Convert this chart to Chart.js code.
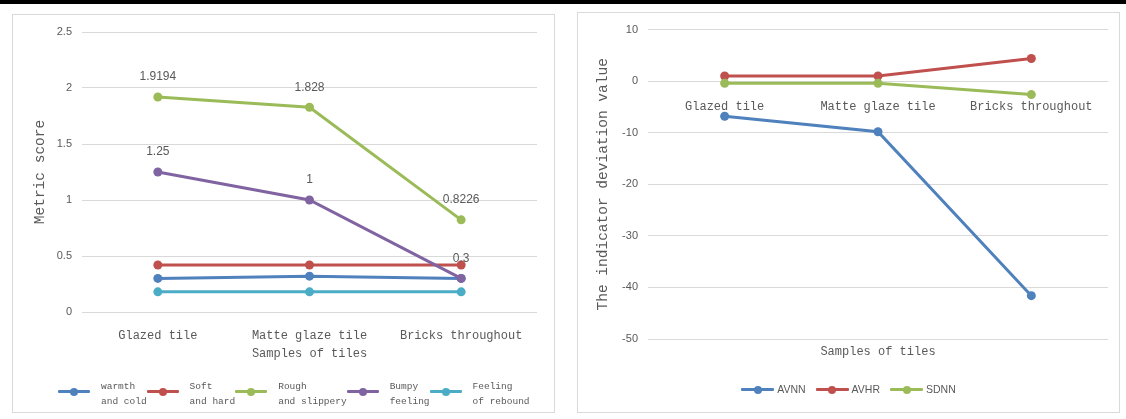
<!DOCTYPE html>
<html>
<head>
<meta charset="utf-8">
<script src="https://cdn.jsdelivr.net/npm/chart.js@4.4.1/dist/chart.umd.min.js"></script>
<style>
  body { margin: 0; background: #fff; width: 1126px; height: 419px; position: relative; overflow: hidden; }
  .topbar { position: absolute; left: 0; top: 0; width: 1126px; height: 4px; background: #000; }
  .panel { position: absolute; border: 1px solid #d9d9d9; background: #fff; }
  #panelL { left: 12px; top: 14px; width: 541px; height: 397px; }
  #panelR { left: 577px; top: 12px; width: 541px; height: 399px; }
  .panel canvas { position: absolute; left: 0; top: 0; }
  .legend { position: absolute; display: flex; color: #595959; }
  .legend .item { display: flex; align-items: flex-start; }
  .legend .mark { position: relative; display: block; height: 3px; border-radius: 1px; }
  .legend .mark i { position: absolute; left: 50%; top: 50%; width: 8px; height: 8px; margin: -4px 0 0 -4px; border-radius: 50%; }
  #legendL { left: 45px; top: 364px; }
  #legendL .mark { width: 32px; margin-top: 11px; }
  #legendL .txt { font: 9.5px "Liberation Mono", monospace; line-height: 15px; white-space: pre; margin-left: 11px; }
  #legendR { left: 0; width: 541px; top: 369px; justify-content: center; gap: 10px; }
  #legendR .mark { width: 33px; margin-top: 6px; }
  #legendR .txt { font: 10.5px "Liberation Sans", sans-serif; line-height: 14px; margin-left: 3px; }
</style>
</head>
<body>
<div class="topbar"></div>
<div class="panel" id="panelL">
  <canvas id="scoreChart" width="541" height="397"></canvas>
  <div class="legend" id="legendL"></div>
</div>
<div class="panel" id="panelR">
  <canvas id="hrvChart" width="541" height="399"></canvas>
  <div class="legend" id="legendR"></div>
</div>
<script>
const categories = ["Glazed tile", "Matte glaze tile", "Bricks throughout"];

// 촉감 지표 점수
const warmthCold = [0.3, 0.32, 0.3];
const softHard = [0.42, 0.42, 0.42];
const roughSlippery = [1.9194, 1.828, 0.8226];
const bumpyFeeling = [1.25, 1, 0.3];
const reboundFeeling = [0.18, 0.18, 0.18];
const scoreNames = [["warmth", "and cold"], ["Soft", "and hard"], ["Rough", "and slippery"], ["Bumpy", "feeling"], ["Feeling", "of rebound"]];
const scoreRange = [0, 2.5, 0.5];

// 심박 지표 편차
const avnn = [-6.8, -9.8, -41.6];
const avhr = [1.0, 1.0, 4.4];
const sdnn = [-0.4, -0.4, -2.6];
const hrvNames = ["AVNN", "AVHR", "SDNN"];
const hrvRange = [-50, 10, 10];

const textColor = "#595959";
const gridColor = "#d9d9d9";
const mono = (size) => ({ family: "'Liberation Mono', monospace", size: size });
const sans = (size) => ({ family: "'Liberation Sans', sans-serif", size: size });
const plainNumber = (v) => String(+v.toFixed(2)); // 2.0 -> 2

function lineSet(label, data, color, i, n, showValues) {
  return {
    label: label,
    data: data,
    borderColor: color,
    backgroundColor: color,
    borderWidth: 3,
    pointRadius: 4.5,
    pointHoverRadius: 4.5,
    pointBorderWidth: 0,
    tension: 0,
    order: n - i, // 뒤 시리즈가 위에 그려지도록
    showValues: !!showValues,
  };
}

// 점 위에 값 표시
const valueLabels = {
  id: "valueLabels",
  afterDatasetsDraw(chart) {
    const ctx = chart.ctx;
    ctx.save();
    ctx.font = "12px 'Liberation Sans', sans-serif";
    ctx.fillStyle = textColor;
    ctx.textAlign = "center";
    ctx.textBaseline = "middle";
    chart.data.datasets.forEach((ds, i) => {
      if (!ds.showValues) return;
      chart.getDatasetMeta(i).data.forEach((pt, j) => {
        ctx.fillText(String(ds.data[j]), pt.x, pt.y - 20);
      });
    });
    ctx.restore();
  },
};

function buildLegend(el, chart, names) {
  chart.data.datasets.forEach((ds, i) => {
    const item = document.createElement("div");
    item.className = "item";
    const mark = document.createElement("span");
    mark.className = "mark";
    mark.style.background = ds.borderColor;
    const dot = document.createElement("i");
    dot.style.background = ds.borderColor;
    mark.appendChild(dot);
    const txt = document.createElement("span");
    txt.className = "txt";
    txt.textContent = [].concat(names[i]).join("\n");
    item.appendChild(mark);
    item.appendChild(txt);
    el.appendChild(item);
  });
}

window.addEventListener("load", () => {
  //   왼쪽 그래프
  const scoreColors = ["#4f81bd", "#c0504d", "#9bbb59", "#8064a2", "#4bacc6"];
  const scoreData = [warmthCold, softHard, roughSlippery, bumpyFeeling, reboundFeeling];
  const scoreChart = new Chart(document.getElementById("scoreChart"), {
    type: "line",
    data: {
      labels: categories,
      datasets: scoreData.map((d, i) =>
        lineSet(scoreNames[i].join(" "), d, scoreColors[i], i, scoreData.length, i === 2 || i === 3)
      ),
    },
    options: {
      responsive: false,
      animation: false,
      layout: { padding: { left: 0, top: 17, right: 17, bottom: 51 } },
      plugins: { legend: { display: false }, tooltip: { enabled: false } },
      scales: {
        x: {
          offset: true,
          grid: { display: false },
          border: { display: false },
          ticks: { padding: 9, color: textColor, font: mono(12), maxRotation: 0, autoSkip: false },
          title: { display: true, text: "Samples of tiles", color: textColor, font: mono(12), padding: 0 },
          afterFit(s) { s.height = 49; },
        },
        y: {
          min: scoreRange[0],
          max: scoreRange[1],
          grid: { color: gridColor, drawTicks: false },
          border: { display: false },
          ticks: { stepSize: scoreRange[2], padding: 10, color: textColor, font: sans(11), callback: plainNumber },
          title: { display: true, text: "Metric score", color: textColor, font: mono(14.5), padding: { top: 18, bottom: 0 } },
          afterFit(s) { s.width = 69; },
        },
      },
    },
    plugins: [valueLabels],
  });
  buildLegend(document.getElementById("legendL"), scoreChart, scoreNames);

  //   오른쪽 그래프
  const hrvColors = ["#4f81bd", "#c0504d", "#9bbb59"];
  const hrvData = [avnn, avhr, sdnn];
  const hrvChart = new Chart(document.getElementById("hrvChart"), {
    type: "line",
    data: {
      labels: categories,
      datasets: hrvData.map((d, i) => lineSet(hrvNames[i], d, hrvColors[i], i, hrvData.length)),
    },
    options: {
      responsive: false,
      animation: false,
      layout: { padding: { left: 0, top: 16, right: 11, bottom: 53 } },
      plugins: { legend: { display: false }, tooltip: { enabled: false } },
      scales: {
        x: {
          offset: true,
          grid: { display: false },
          border: { display: false },
          ticks: { display: false },
          title: { display: true, text: "Samples of tiles", color: textColor, font: mono(12), padding: 0 },
          afterFit(s) { s.height = 20; },
        },
        // 카테고리 이름은 0 선 바로 아래
        x2: {
          type: "category",
          position: { y: 0 },
          offset: true,
          grid: { display: false },
          border: { display: false },
          ticks: { padding: 10, color: textColor, font: mono(12), maxRotation: 0, autoSkip: false },
        },
        y: {
          min: hrvRange[0],
          max: hrvRange[1],
          grid: { color: gridColor, drawTicks: false },
          border: { display: false },
          ticks: { stepSize: hrvRange[2], padding: 10, color: textColor, font: sans(11), callback: plainNumber },
          title: { display: true, text: "The indicator deviation value", color: textColor, font: mono(14.5), padding: { top: 16, bottom: 0 } },
          afterFit(s) { s.width = 70; },
        },
      },
    },
  });
  buildLegend(document.getElementById("legendR"), hrvChart, hrvNames);
});
</script>
</body>
</html>
